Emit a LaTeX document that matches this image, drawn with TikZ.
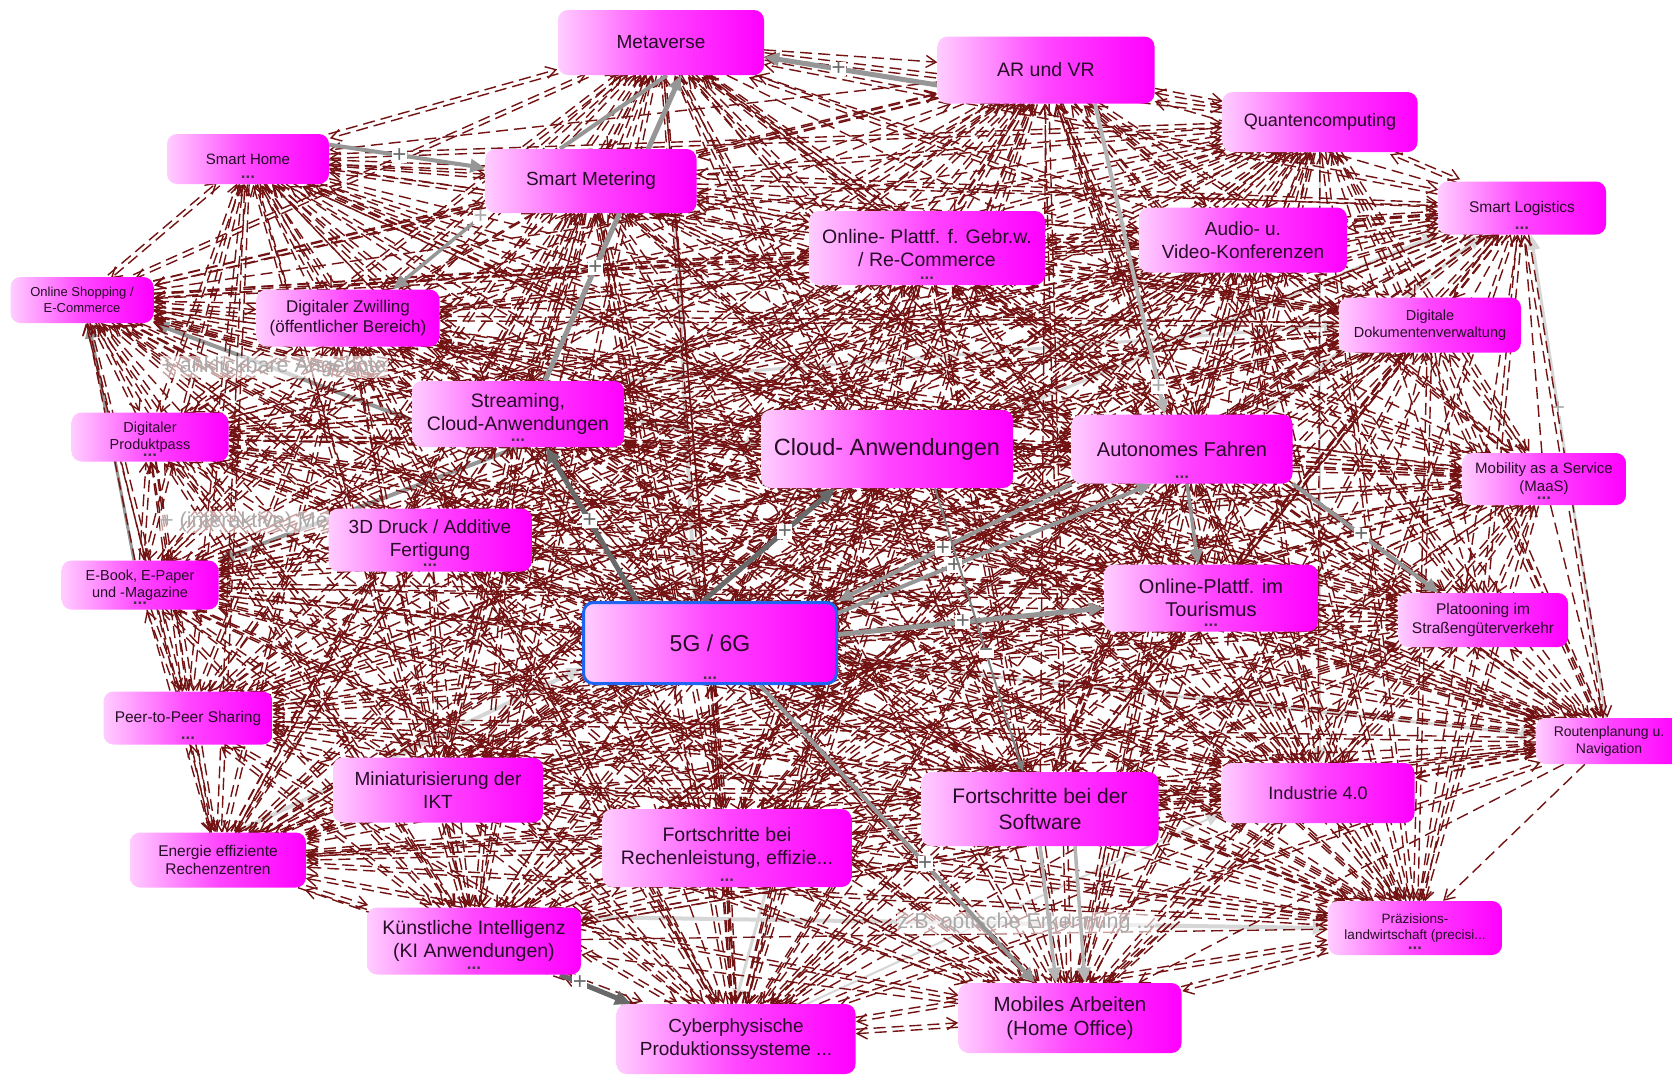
\documentclass[tikz,border=0pt]{standalone}
\usepackage{fontspec}
\setmainfont{Liberation Sans}
\usetikzlibrary{arrows.meta}
\pgfdeclarelayer{under}
\pgfdeclarelayer{links}
\pgfdeclarelayer{front}
\pgfsetlayers{under,main,links,front}

\definecolor{wire}{RGB}{115,18,18}
\definecolor{boxink}{RGB}{38,12,38}
\definecolor{boxlight}{RGB}{255,205,255}
\definecolor{boxmid}{RGB}{255,70,255}
\definecolor{boxfull}{RGB}{255,0,255}
\definecolor{frameblue}{RGB}{30,100,240}
\definecolor{linkdark}{RGB}{105,105,105}
\definecolor{linkmid}{RGB}{150,150,150}
\definecolor{linklight}{RGB}{214,214,214}
\definecolor{labelgray}{RGB}{170,170,170}

\tikzset{
  topic/.style={rectangle, rounded corners=10pt, inner sep=0pt, align=center,
    text=boxink, left color=boxlight, right color=boxfull, middle color=boxmid},
  moredots/.style={anchor=base, inner sep=0pt, text=boxink!85,
    font=\fontsize{17pt}{17pt}\selectfont\bfseries},
  wire/.style={draw=wire, line width=1.4pt, dash pattern=on 12pt off 6pt,
    -{Straight Barb[length=10pt,width=12pt]}},
  darklink/.style={draw=linkdark, line width=5pt, -{Triangle[length=16pt,width=14pt]}},
  midlink/.style={draw=linkmid, line width=4pt, -{Triangle[length=15pt,width=13pt]}},
  thinlink/.style={draw=linkmid!85!black, line width=2pt, -{Triangle[length=11pt,width=9pt]}},
  lightlink/.style={draw=linklight, line width=4pt, -{Triangle[length=15pt,width=13pt]}},
  plusmark/.style={fill=white, inner sep=0.5pt, text=linkdark, font=\fontsize{24pt}{24pt}\selectfont},
  pluslight/.style={plusmark, text=labelgray},
  linklabel/.style={fill=white, fill opacity=0.6, text opacity=1, inner sep=1pt,
    text=labelgray, font=\fontsize{21.5pt}{24pt}\selectfont},
}

% name, x, y, width, height, font size, line skip, text
\newcommand\topicbox[8]{%
  \node[topic, minimum width=#4pt, minimum height=#5pt,
        font=\fontsize{#6pt}{#7pt}\selectfont] (#1) at (#2,#3) {#8};}
\newcommand\moreof[1]{\node[moredots] (#1-more) at ([yshift=5.5pt]#1.south) {...};}

\def\topics{metaverse,arvr,quanten,logistics,audio,dokument,smarthome,metering,shopping,zwilling,recommerce,streaming,produktpass,druck,ebook,cloud,fivegsix,autonom,tourismus,maas,platoon,peer,mini,energie,ki,rechen,cyber,software,mobil,industrie,route,praezision}

\begin{document}
\begin{tikzpicture}[x=1pt,y=-1pt]
\useasboundingbox (0,0) rectangle (1672,1077);

% ---------- topic boxes ----------
\begin{pgfonlayer}{front}
\topicbox{metaverse}{661}{42.5}{206}{65}{19}{22.8}{Metaverse}
\topicbox{arvr}{1046}{70}{217}{67}{19.5}{23.4}{AR und VR}
\topicbox{quanten}{1320}{122}{195}{60}{18}{21.6}{Quantencomputing}
\topicbox{logistics}{1522}{208}{168}{53}{15.5}{18.6}{Smart Logistics}
\topicbox{audio}{1243}{240}{208}{65}{19}{22.8}{Audio- u.\\Video-Konferenzen}
\topicbox{dokument}{1430}{325}{182}{55}{14.5}{17.4}{Digitale\\Dokumentenverwaltung}
\topicbox{smarthome}{248}{159}{162}{50}{15}{18}{Smart Home}
\topicbox{metering}{591}{181}{211}{64}{19}{22.8}{Smart Metering}
\topicbox{shopping}{82}{300}{143}{46}{13}{15.6}{Online Shopping /\\E-Commerce}
\topicbox{zwilling}{348}{318}{183}{57}{17}{20.4}{Digitaler Zwilling\\(öffentlicher Bereich)}
\topicbox{recommerce}{927}{248}{236}{74}{19.5}{23}{Online- Plattf. f. Gebr.w.\\/ Re-Commerce}
\topicbox{streaming}{518}{414}{212}{66}{19.5}{23}{Streaming,\\Cloud-Anwendungen}
\topicbox{produktpass}{150}{437}{157}{49}{14.5}{17.4}{Digitaler\\Produktpass}
\topicbox{druck}{430}{540}{203}{63}{19}{22.8}{3D Druck / Additive\\Fertigung}
\topicbox{ebook}{140}{585}{157}{49}{14.5}{17.4}{E-Book, E-Paper\\und -Magazine}
\topicbox{cloud}{887}{449}{252}{78}{23.5}{28}{Cloud- Anwendungen}
\node[topic, draw=frameblue, line width=3pt, minimum width=253pt, minimum height=81pt,
      font=\fontsize{23pt}{27.6pt}\selectfont] (fivegsix) at (710,643) {5G / 6G};
\topicbox{autonom}{1182}{449}{221}{69}{20}{24}{Autonomes Fahren}
\topicbox{tourismus}{1211}{598}{214}{67}{20}{23.5}{Online-Plattf. im\\Tourismus}
\topicbox{maas}{1544}{479}{164}{52}{15}{18}{Mobility as a Service\\(MaaS)}
\topicbox{platoon}{1483}{620}{170}{54}{15.5}{18.6}{Platooning im\\Straßengüterverkehr}
\topicbox{peer}{188}{718}{169}{53}{15.5}{18.6}{Peer-to-Peer Sharing}
\topicbox{mini}{438}{790}{210}{65}{19}{22.8}{Miniaturisierung der\\IKT}
\topicbox{energie}{218}{860}{176}{55}{15.5}{18.6}{Energie effiziente\\Rechenzentren}
\topicbox{ki}{474}{941}{214}{67}{19.5}{23.4}{Künstliche Intelligenz\\(KI Anwendungen)}
\topicbox{rechen}{727}{848}{249}{78}{19.5}{23.8}{Fortschritte bei\\Rechenleistung, effizie...}
\topicbox{cyber}{736}{1039}{239}{70}{19}{22.8}{Cyberphysische\\Produktionssysteme ...}
\topicbox{software}{1040}{809}{237}{74}{21}{25.2}{Fortschritte bei der\\Software}
\topicbox{mobil}{1070}{1018}{223}{70}{20.5}{24.6}{Mobiles Arbeiten\\(Home Office)}
\topicbox{industrie}{1318}{793}{193}{60}{18}{21.6}{Industrie 4.0}
\topicbox{route}{1609}{741}{146}{46}{14}{16.8}{Routenplanung u.\\Navigation}
\topicbox{praezision}{1415}{928}{174}{54}{13.5}{16.5}{Präzisions-\\landwirtschaft (precisi...}

\foreach \t in {logistics,smarthome,recommerce,streaming,produktpass,druck,ebook,
                fivegsix,autonom,tourismus,maas,peer,ki,rechen,praezision}{\moreof{\t}}
\end{pgfonlayer}

% ---------- dashed influence wires between every pair of topics ----------
% most pairs act in both directions: two parallel wires, one each way
\foreach \a [count=\i] in \topics {
  \foreach \b [count=\j] in \topics {
    \ifnum\j>\i\relax
      \pgfmathanglebetweenpoints{\pgfpointanchor{\a}{center}}{\pgfpointanchor{\b}{center}}
      \let\ang\pgfmathresult
      \ifnum\numexpr\i+\j-3*((\i+\j)/3)\relax=0
        \ifodd\numexpr\i+\j\relax
          \draw[wire] (\a) -- (\b);
        \else
          \draw[wire] (\b) -- (\a);
        \fi
      \else
        \draw[wire, transform canvas={shift={(\ang+90:2.2pt)}}] (\a) -- (\b);
        \draw[wire, transform canvas={shift={(\ang-90:2.2pt)}}] (\b) -- (\a);
      \fi
    \fi
  }
}

% ---------- faint links ----------
\begin{pgfonlayer}{under}
\fill[white] (0,0) rectangle (1672,1077);
\draw[midlink] ([yshift=-6pt]streaming.west) -- (shopping.south east);
\draw[midlink] (streaming.south) -- (ebook.north east);
\draw[midlink, line width=3pt] ([xshift=-6pt]ebook.north) -- ([xshift=7pt]shopping.south);
\draw[lightlink] ([yshift=24pt]ki.east) -- (praezision.west);
\draw[lightlink, -] ([xshift=84pt]metering.south) -- node[pluslight, pos=0.15] (p-meter5g) {+} ([xshift=-15pt]fivegsix.north);
\draw[lightlink, line width=3pt] ([xshift=-3pt]route.north) -- node[pluslight, pos=0.64] (p-route) {+} ([xshift=9pt]logistics.south);
\draw[lightlink, line width=3pt] ([xshift=40pt]rechen.south) -- ([xshift=-1pt]cyber.north);
\draw[lightlink, line width=2pt] ([xshift=71pt]cyber.north) -- ([yshift=-20pt]industrie.west);
\draw[lightlink] ([xshift=18pt]energie.north) -- ([yshift=-25pt]fivegsix.west);
\draw[lightlink, line width=3pt] ([yshift=-17pt]fivegsix.east) -- ([yshift=6pt]route.west);
\draw[lightlink, line width=2.5pt] (quanten.south) -- ([xshift=2pt]industrie.north);
\draw[lightlink, line width=3pt] (cloud.north east) -- (logistics.south west);
\draw[lightlink, line width=3pt] ([xshift=-30pt]autonom.north east) -- ([xshift=-40pt]logistics.south);
\draw[lightlink, line width=3pt] (streaming.north east) -- (dokument.west);
\draw[lightlink, line width=3pt] ([yshift=-4pt]streaming.east) -- node[pluslight, pos=0.8] (m-stream) {−} ([yshift=4pt]cloud.west);
\end{pgfonlayer}

% ---------- strong links and link captions ----------
\begin{pgfonlayer}{links}
\node[linklabel] (lab-angebote) at (274,367) {+ anklickbare Angebote};
\node[linklabel, anchor=east] (lab-medien) at (329,522) {+ (interaktive) Me};
\node[linklabel] (lab-erkennung) at (1026,923) {z.B. optische Erkennung ...};
\draw[midlink] (smarthome.10) -- node[plusmark, pos=0.45] (p-home) {+} (metering.173);
\draw[midlink, line width=3.5pt] (metering.south west) -- node[pluslight, pos=0.05] (p-zwilling) {+} ([xshift=45pt]zwilling.north);
\draw[midlink, line width=5pt] ([yshift=-15pt]arvr.west) -- node[plusmark, pos=0.57] (p-arvr) {+} ([yshift=-14.5pt]metaverse.east);
\draw[midlink, line width=5pt] ([xshift=27pt]streaming.north) -- node[plusmark, pos=0.37] (p-stream) {+} ([xshift=20pt]metaverse.south);
\draw[midlink, -] ([xshift=-31pt]metering.north) -- ([xshift=6pt]metaverse.south);
\draw[darklink] ([xshift=-73pt]fivegsix.north) -- node[plusmark, pos=0.52] (p-5gstream) {+} ([xshift=28pt]streaming.south);
\draw[darklink] ([xshift=-7pt]fivegsix.north) -- node[plusmark, pos=0.62] (p-5gcloud) {+} ([xshift=-52pt]cloud.south);
\draw[midlink] (autonom.south west) -- node[plusmark, pos=0.55] (p-auto5g) {+} (fivegsix.north east);
\draw[midlink] ([yshift=-12pt]fivegsix.north east) -- node[plusmark, pos=0.37] (p-5gauto) {+} ([xshift=-30pt]autonom.south);
\draw[midlink, line width=5pt] ([yshift=8.5pt]fivegsix.east) -- node[plusmark, pos=0.47] (p-5gtour) {+} ([yshift=-10pt]tourismus.west);
\draw[thinlink] ([xshift=48pt]cloud.south) -- node[plusmark, pos=0.58] (m-cloud) {−} ([xshift=-17pt]software.north);
\draw[midlink] ([xshift=50pt]fivegsix.south) -- node[plusmark, pos=0.6] (p-5gmobil) {+} ([xshift=-35pt]mobil.north);
\draw[midlink, draw=linkmid!70!white, line width=3.5pt] (software.south) -- ([xshift=-14pt]mobil.north);
\draw[midlink, draw=linkmid!70!white, line width=3.5pt] ([xshift=35pt]software.south) -- ([xshift=15pt]mobil.north);
\draw[midlink] (autonom.south east) -- node[plusmark, pos=0.47] (p-platoon) {+} ([xshift=-44pt]platoon.north);
\draw[midlink, line width=3.5pt] ([xshift=5pt]autonom.south) -- ([xshift=-13pt]tourismus.north);
\draw[midlink, draw=linkmid!70!white] ([xshift=49pt]arvr.south) -- node[pluslight, pos=0.91] (p-arauto) {+} ([xshift=-17pt]autonom.north);
\draw[darklink] ([xshift=86pt]ki.south) -- node[plusmark, pos=0.28] (p-kicyber) {+} ([xshift=-105pt]cyber.north);
\end{pgfonlayer}
\end{tikzpicture}
\end{document}
